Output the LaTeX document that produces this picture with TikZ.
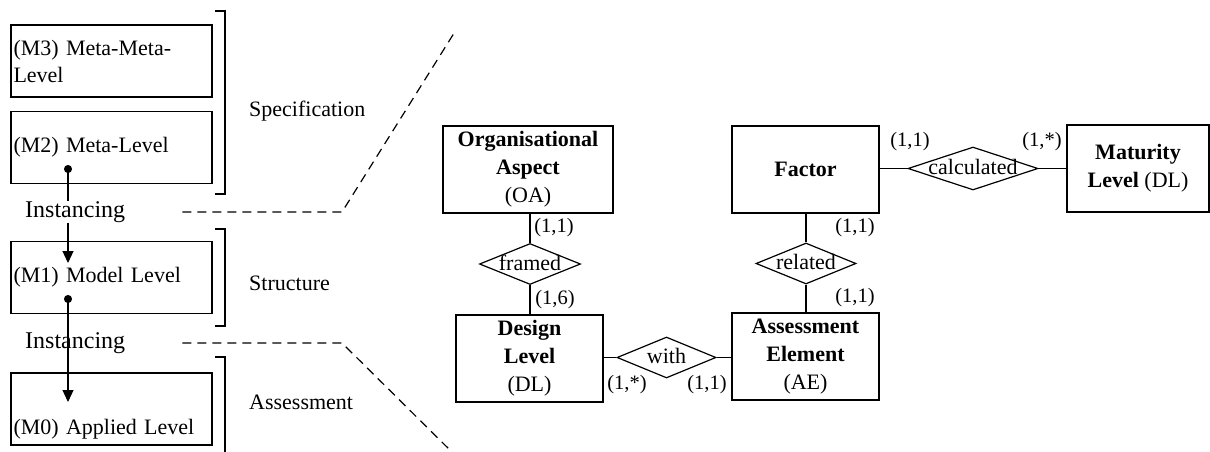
\documentclass[tikz,border=0pt]{standalone}
\usepackage{fontspec}
\setmainfont{Liberation Serif}
\usetikzlibrary{arrows.meta,shapes.geometric}

\newcommand{\rtext}[1]{\raisebox{-6pt}[0pt][0pt]{#1}}

\tikzset{
  lvl/.style={draw,line width=1.2pt,minimum width=201pt,minimum height=72pt,
    text width=196pt,align=left,inner xsep=1pt,font=\fontsize{22}{27}\selectfont},
  ent/.style={draw,line width=1.2pt,minimum height=87pt,align=center,
    font=\fontsize{22}{28}\selectfont},
  rel/.style={draw,diamond,aspect=10,line width=1.2pt,inner sep=0pt,
    font=\fontsize{22}{26}\selectfont},
  card/.style={inner sep=0pt,font=\fontsize{20.5}{24}\selectfont},
  side/.style={anchor=west,inner sep=0pt,font=\fontsize{22}{26}\selectfont},
  inst/.style={anchor=west,inner sep=0pt,font=\fontsize{24}{28}\selectfont},
  conn/.style={line width=1.2pt},
  brk/.style={line width=1.2pt},
  zoomline/.style={line width=1.2pt,dash pattern=on 9pt off 6pt},
  lvlarrow/.style={line width=1.2pt,{Circle[length=8pt]}-{Triangle[length=12pt,width=11pt]}}
}

\begin{document}
\begin{tikzpicture}[x=1pt,y=-1pt]
			\useasboundingbox (0,0) rectangle (1210,452);
			% levels
			\node[lvl] (m3) at (111.5,61) {(M3) Meta-Meta-\\Level};
			\node[lvl] (m2) at (111.5,147.5) {(M2) Meta-Level};
			\node[lvl] (m1) at (111.5,277.5) {(M1) Model Level};
			\node[lvl] (m0) at (111.5,409) {\mbox{}\\[28pt](M0) Applied Level};
			\coordinate (d2) at (68,165);
			\coordinate (t1) at (68,263);
			\coordinate (d1) at (68,295);
			\coordinate (t0) at (68,402);
			\draw[lvlarrow] (d2) -- (t1);
			\draw[lvlarrow] (d1) -- (t0);
			\node[inst,fill=white] (inst1) at (25,212) {Instancing};
			\node[inst] (inst2) at (25,343) {Instancing};
			% brackets
			\draw[brk] (215,11) -- (225,11) -- (225,194) -- (215,194);
			\draw[brk] (215,229) -- (225,229) -- (225,326) -- (215,326);
			\draw[brk] (215,357) -- (225,357) -- (225,460);
			\node[side] (spec) at (249,111) {Specification};
			\node[side] (struc) at (249,283) {Structure};
			\node[side] (assm) at (249,402) {Assessment};
			% zoom lines
			\coordinate (z1) at (342,212);
			\coordinate (z1e) at (456,30);
			\coordinate (z2) at (342,343);
			\coordinate (z2e) at (458,458);
			\draw[zoomline] ([xshift=57pt]inst1.east) -- (z1) -- (z1e);
			\draw[zoomline] ([xshift=57pt]inst2.east) -- (z2) -- (z2e);
			% entities
			\node[ent,minimum width=170pt] (oa) at (528,169.5) {\textbf{Organisational}\\\textbf{Aspect}\\(OA)};
			\node[ent,minimum width=147pt] (dl) at (529.5,358.5) {\textbf{Design}\\\textbf{Level}\\(DL)};
			\node[ent,minimum width=147pt] (fac) at (805.5,169.5) {\textbf{Factor}};
			\node[ent,minimum width=147pt] (ae) at (805.5,356.5) {\textbf{Assessment}\\\textbf{Element}\\(AE)};
			\node[ent,minimum width=142pt] (mat) at (1138,168.5) {\textbf{Maturity}\\\textbf{Level} (DL)};
			% relations
			\node[rel,minimum width=101pt,minimum height=41pt] (framed) at (530,264) {\rtext{framed}};
			\node[rel,minimum width=100pt,minimum height=41pt] (related) at (806,263.5) {\rtext{related}};
			\node[rel,minimum width=99pt,minimum height=41pt] (with) at (666.5,357.5) {\rtext{with}};
			\node[rel,minimum width=130pt,minimum height=43pt] (calc) at (973,168.5) {\rtext{calculated}};
			\draw[conn] (oa.south -| framed.north) -- (framed.north);
			\draw[conn] (framed.south) -- (framed.south |- dl.north);
			\draw[conn] (dl.east |- with) -- (with.west);
			\draw[conn] (with.east) -- (ae.west |- with);
			\draw[conn] (fac.south -| related) -- (related.north);
			\draw[conn] (related.south) -- (related |- ae.north);
			\draw[conn] (fac.east |- calc) -- (calc.west);
			\draw[conn] (calc.east) -- (mat.west |- calc);
			% cardinalities
			\node[card] at (554,228) {(1,1)};
			\node[card] at (555,300) {(1,6)};
			\node[card] at (627,385) {(1,*)};
			\node[card] at (707,385) {(1,1)};
			\node[card] at (855,228) {(1,1)};
			\node[card] at (855,298) {(1,1)};
			\node[card] at (910,142) {(1,1)};
			\node[card] at (1042,142) {(1,*)};
		\end{tikzpicture}
\end{document}
